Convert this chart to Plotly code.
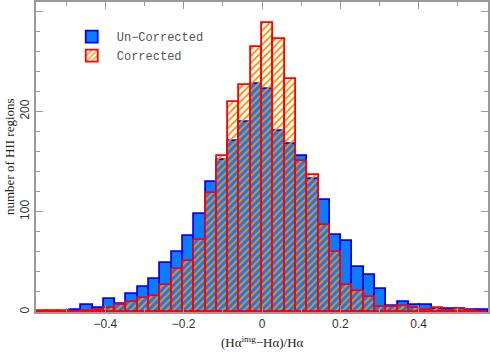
import plotly.graph_objects as go

# histogram of (Ha_img - Ha)/Ha, 40 bins over the plotted range
X_MIN = -0.577
X_MAX = 0.577
N_BINS = 40

uncorrected = [0, 0, 0, 2, 7, 4, 13, 8, 18, 25,
               33, 49, 60, 76, 98, 130, 152, 170, 189, 227,
               222, 180, 167, 156, 133, 112, 77, 71, 45, 37,
               23, 6, 10, 7, 7, 3, 3, 3, 2, 2]
corrected = [1, 1, 1, 0, 1, 2, 4, 7, 10, 14,
             16, 27, 43, 51, 72, 119, 156, 209, 226, 264,
             288, 272, 232, 151, 137, 87, 60, 27, 21, 15,
             5, 5, 6, 4, 2, 4, 1, 3, 1, 0]

bw = (X_MAX - X_MIN) / N_BINS
centers = [X_MIN + bw * (i + 0.5) for i in range(N_BINS)]

SERIF = "Liberation Serif"
MONO = "Liberation Mono"
GREY = "#9a9a9a"

fig = go.Figure()
fig.add_trace(go.Bar(
    x=centers, y=uncorrected, width=bw, name="Un\u2212Corrected",
    marker=dict(color="#0A7DFF", line=dict(color="#0000FF", width=1.8)),
))
fig.add_trace(go.Bar(
    x=centers, y=corrected, width=bw, name="Corrected",
    marker=dict(
        color="rgba(0,0,0,0)",
        line=dict(color="#FF0000", width=1.8),
        pattern=dict(shape="/", fgcolor="#FF8C00", bgcolor="rgba(0,0,0,0)",
                     size=5, solidity=0.35, fillmode="replace"),
    ),
))

axis_common = dict(
    showline=True, linecolor=GREY, linewidth=2, mirror="ticks",
    ticks="inside", tickcolor=GREY, tickwidth=1.2, ticklen=7,
    showgrid=False, zeroline=False, automargin=False,
    tickfont=dict(family="Liberation Sans", size=12, color="#333"),
)

fig.update_layout(
    width=490, height=354,
    margin=dict(l=36, r=2, t=2, b=42),
    plot_bgcolor="white", paper_bgcolor="white",
    barmode="overlay", bargap=0,
    xaxis=dict(
        range=[X_MIN, X_MAX], tickvals=[-0.4, -0.2, 0, 0.2, 0.4],
        ticktext=["\u22120.4", "\u22120.2", "0", "0.2", "0.4"],
        minor=dict(dtick=0.1, tick0=0, ticks="inside", ticklen=4, tickcolor=GREY),
        **axis_common,
    ),
    yaxis=dict(
        range=[0, 309], tickvals=[0, 100, 200, 300], tickangle=-90,
        minor=dict(dtick=20, ticks="inside", ticklen=4, tickcolor=GREY),
        **axis_common,
    ),
    legend=dict(
        x=0.068, y=0.935, xanchor="left", yanchor="top",
        bgcolor="rgba(0,0,0,0)", itemwidth=40,
        font=dict(family=MONO, size=12, color="#555"),
    ),
    annotations=[
        dict(text="(H\u03b1<sup>img</sup>\u2212H\u03b1)/H\u03b1", xref="paper", yref="paper",
             x=0.5, y=0, yanchor="middle", yshift=-30, showarrow=False,
             font=dict(family=SERIF, size=13, color="#222")),
        dict(text="number of HII regions", xref="paper", yref="paper",
             x=0, y=0.5, xanchor="center", xshift=-27, textangle=-90, showarrow=False,
             font=dict(family=SERIF, size=13, color="#222")),
    ],
)

# the page body has an 8px default margin; drop it so the figure fills the window
fig.write_html("out.html", post_script="document.body.style.margin='0';",
               config={"displayModeBar": False})
